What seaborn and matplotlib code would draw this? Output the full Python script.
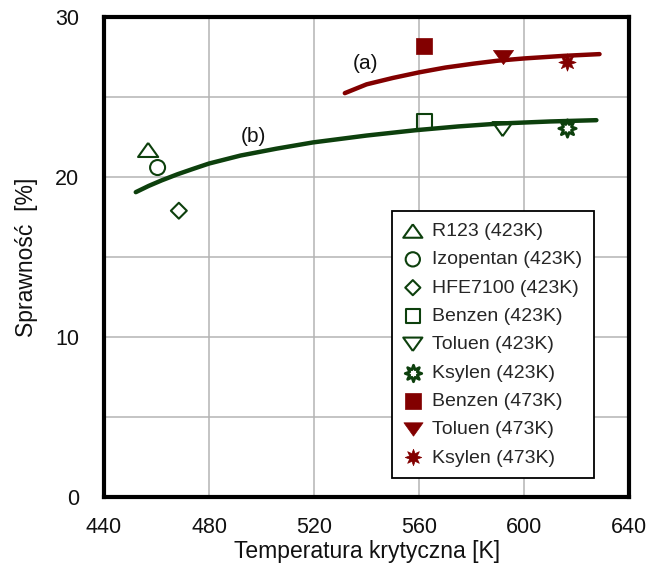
import matplotlib
matplotlib.use("Agg")
import matplotlib.pyplot as plt
import seaborn as sns
import numpy as np
from matplotlib.ticker import MultipleLocator

# ---------------- data ----------------
fluids_423 = ["R123 (423K)", "Izopentan (423K)", "HFE7100 (423K)",
              "Benzen (423K)", "Toluen (423K)", "Ksylen (423K)"]
tc_423 = [456.8, 460.4, 468.5, 562.0, 591.8, 616.2]
eff_423 = [21.7, 20.6, 17.9, 23.5, 23.0, 23.1]

fluids_473 = ["Benzen (473K)", "Toluen (473K)", "Ksylen (473K)"]
tc_473 = [562.0, 591.8, 616.2]
eff_473 = [28.2, 27.5, 27.2]

# trend line (a) - 473K
curve_a_x = [531.7, 540.0, 550.0, 560.0, 570.0, 581.0, 590.0, 600.0, 615.0, 628.7]
curve_a_y = [25.25, 25.80, 26.20, 26.55, 26.85, 27.10, 27.28, 27.42, 27.58, 27.69]
# trend line (b) - 423K
curve_b_x = [452.1, 457.0, 462.0, 468.0, 474.0, 480.0, 492.0, 505.7, 519.6, 540.0,
             558.5, 575.0, 590.6, 610.0, 627.5]
curve_b_y = [19.06, 19.45, 19.80, 20.18, 20.52, 20.85, 21.35, 21.78, 22.17, 22.60,
             22.93, 23.17, 23.35, 23.48, 23.56]

x_ticks = [440, 480, 520, 560, 600, 640]
y_ticks = [0, 10, 20, 30]

GREEN = "#0d400d"
RED = "#820000"

# ---------------- style ----------------
sns.set_theme(style="white")
plt.rcParams["font.family"] = ["Liberation Sans Narrow", "Liberation Sans", "DejaVu Sans"]

fig = plt.figure(figsize=(6.46, 5.72), dpi=100)
ax = fig.add_axes([0.161, 0.131, 0.813, 0.839])

tri_up = [(0, 0.7), (-1, -0.7), (1, -0.7), (0, 0.7)]
tri_dn = [(0, -0.7), (-1, 0.7), (1, 0.7), (0, -0.7)]
star8 = (8, 1, 0)

markers_423 = [tri_up, "o", "D", "s", tri_dn, star8]
sizes_423 = [14.5, 10.8, 8.1, 10.8, 14.5, 12.5]
markers_473 = ["s", tri_dn, star8]
sizes_473 = [11.5, 14.5, 12.5]

# curves
sns.lineplot(x=curve_b_x, y=curve_b_y, color=GREEN, linewidth=3.2, ax=ax,
             estimator=None, sort=False, legend=False)
sns.lineplot(x=curve_a_x, y=curve_a_y, color=RED, linewidth=3.2, ax=ax,
             estimator=None, sort=False, legend=False)

for i, (lab, xv, yv) in enumerate(zip(fluids_423, tc_423, eff_423)):
    m = markers_423[i]
    ms = sizes_423[i]
    fc = "white" if m == star8 else "none"
    lw = 2.0 if m == star8 else 1.5
    sns.scatterplot(x=[xv], y=[yv], marker=m, s=ms ** 2, color=GREEN,
                    facecolor=fc, edgecolor=GREEN, linewidth=lw, ax=ax,
                    label=lab, zorder=5)
for i, (lab, xv, yv) in enumerate(zip(fluids_473, tc_473, eff_473)):
    m = markers_473[i]
    ms = sizes_473[i]
    sns.scatterplot(x=[xv], y=[yv], marker=m, s=ms ** 2, color=RED,
                    facecolor=RED, edgecolor=RED, linewidth=0.5, ax=ax,
                    label=lab, zorder=5)

ax.text(539.6, 27.1, "(a)", fontsize=15, ha="center", va="center", color="#111111")
ax.text(497.0, 22.56, "(b)", fontsize=15, ha="center", va="center", color="#111111")

ax.set_xlim(440, 640)
ax.set_ylim(0, 30)
ax.set_xticks(x_ticks)
ax.set_yticks(y_ticks)
ax.yaxis.set_minor_locator(MultipleLocator(5))
ax.grid(True, which="both", color="#b4b4b4", linewidth=1.1)
ax.set_axisbelow(True)
ax.tick_params(axis="both", which="both", length=0, labelsize=15.5, colors="#111111")
ax.tick_params(axis="y", pad=18)
ax.tick_params(axis="x", pad=14)
for s in ax.spines.values():
    s.set_color("black")
    s.set_linewidth(3)

ax.set_xlabel("Temperatura krytyczna [K]", fontsize=16.5, color="#111111", labelpad=2)
ax.set_ylabel("Sprawność  [%]", fontsize=16.5, color="#111111", labelpad=12)

leg = ax.legend(loc="lower left", bbox_to_anchor=(0.548, 0.04), borderaxespad=0,
                fontsize=14, frameon=True, fancybox=False, shadow=False,
                handlelength=1.0, handletextpad=0.5, labelspacing=0.55,
                borderpad=0.58, markerscale=0.95)
leg.get_frame().set_edgecolor("black")
leg.get_frame().set_linewidth(1.3)
leg.get_frame().set_alpha(1)

fig.savefig("out.png", dpi=100)
